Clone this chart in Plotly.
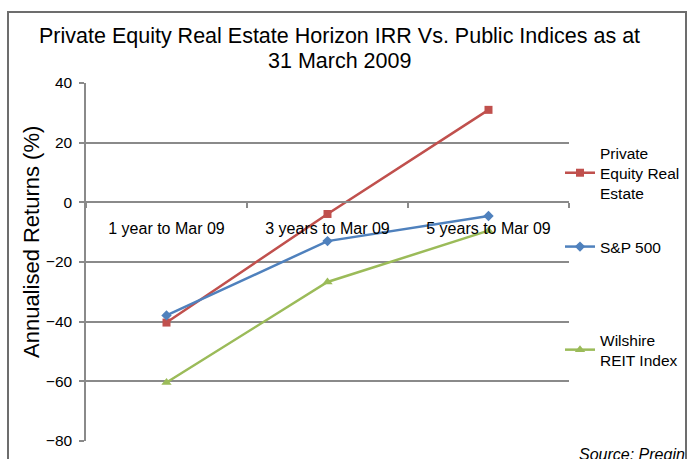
import plotly.graph_objects as go

categories = ["1 year to Mar 09", "3 years to Mar 09", "5 years to Mar 09"]
pere = [-40.3, -3.9, 31.0]
sp500 = [-37.9, -13.0, -4.6]
wilshire = [-60.4, -26.7, -9.5]

series_names = ["Private<br>Equity Real<br>Estate", "S&P 500", "Wilshire<br>REIT Index"]
title_line1 = "Private Equity Real Estate Horizon IRR Vs. Public Indices as at"
title_line2 = "31 March 2009"
y_title = "Annualised Returns (%)"
source_text = "<i>Source: Preqin</i>"
y_ticks = [-80, -60, -40, -20, 0, 20, 40]

W, H = 687, 459
L, R, T, B = 86, 118, 83, 18
pw, ph = W - L - R, H - T - B

def px_x(p):
    return (p - L) / pw

def px_y(p):
    return (H - B - p) / ph

FONT = "Liberation Sans, Arial, sans-serif"
GRID = "#8a8a8a"

fig = go.Figure()
fig.add_trace(go.Scatter(x=categories, y=pere, name=series_names[0], mode="lines+markers",
                         line=dict(color="#C0504D", width=2.5),
                         marker=dict(symbol="square", size=8, color="#C0504D"), legend="legend"))
fig.add_trace(go.Scatter(x=categories, y=sp500, name=series_names[1], mode="lines+markers",
                         line=dict(color="#4F81BD", width=2.5),
                         marker=dict(symbol="diamond", size=8, color="#4F81BD"), legend="legend2"))
fig.add_trace(go.Scatter(x=categories, y=wilshire, name=series_names[2], mode="lines+markers",
                         line=dict(color="#9BBB59", width=2.5),
                         marker=dict(symbol="triangle-up", size=9, color="#9BBB59"), legend="legend3"))

ymin, ymax = -80, 40
zero_pos = (0 - ymin) / (ymax - ymin)

leg_common = dict(xanchor="left", yanchor="top", bgcolor="rgba(0,0,0,0)",
                  font=dict(family=FONT, size=15.5, color="#000000"), itemwidth=30,
                  tracegroupgap=0)
lx = px_x(560)

fig.update_layout(
    width=W, height=H,
    margin=dict(l=L, r=R, t=T, b=B, autoexpand=False),
    paper_bgcolor="white", plot_bgcolor="white",
    font=dict(family=FONT, size=15.5, color="#000000"),
    showlegend=True,
    legend=dict(x=lx, y=px_y(136), **leg_common),
    legend2=dict(x=lx, y=px_y(230), **leg_common),
    legend3=dict(x=lx, y=px_y(323), **leg_common),
    xaxis=dict(
        type="category", anchor="free", position=zero_pos,
        showline=True, linecolor=GRID, linewidth=1.5,
        ticks="outside", tickson="boundaries", ticklen=5, tickcolor=GRID, tickwidth=1.5,
        showgrid=False, ticklabelstandoff=12,
        tickfont=dict(family=FONT, size=16, color="#000000"),
        range=[-0.5, 2.5],
    ),
    yaxis=dict(
        range=[ymin, ymax], tickvals=y_ticks, showgrid=True, gridcolor=GRID, gridwidth=1.5,
        showline=True, linecolor=GRID, linewidth=1.5, zeroline=False,
        ticks="outside", ticklen=5, tickcolor=GRID, tickwidth=1.5, ticklabelstandoff=4,
        tickfont=dict(family=FONT, size=15.5, color="#000000"),
    ),
    shapes=[dict(type="rect", xref="paper", yref="paper",
                 x0=px_x(8), x1=px_x(686), y0=px_y(470), y1=px_y(12),
                 line=dict(color="#6d6d6d", width=2), fillcolor="rgba(0,0,0,0)", layer="below")],
    annotations=[
        dict(text=title_line1, xref="paper", yref="paper", x=px_x(339), y=px_y(36),
             xanchor="center", yanchor="middle", showarrow=False,
             font=dict(family=FONT, size=21.5, color="#000000")),
        dict(text=title_line2, xref="paper", yref="paper", x=px_x(339), y=px_y(60.5),
             xanchor="center", yanchor="middle", showarrow=False,
             font=dict(family=FONT, size=21.5, color="#000000")),
        dict(text=y_title, xref="paper", yref="paper", x=px_x(32), y=px_y(242),
             xanchor="center", yanchor="middle", textangle=-90, showarrow=False,
             font=dict(family=FONT, size=22, color="#000000")),
        dict(text=source_text, xref="paper", yref="paper", x=px_x(577), y=px_y(454),
             xanchor="left", yanchor="middle", showarrow=False,
             font=dict(family=FONT, size=16, color="#000000")),
    ],
)

fig.write_html("out.html", config={"displayModeBar": False},
               post_script="document.body.style.margin='0';")
